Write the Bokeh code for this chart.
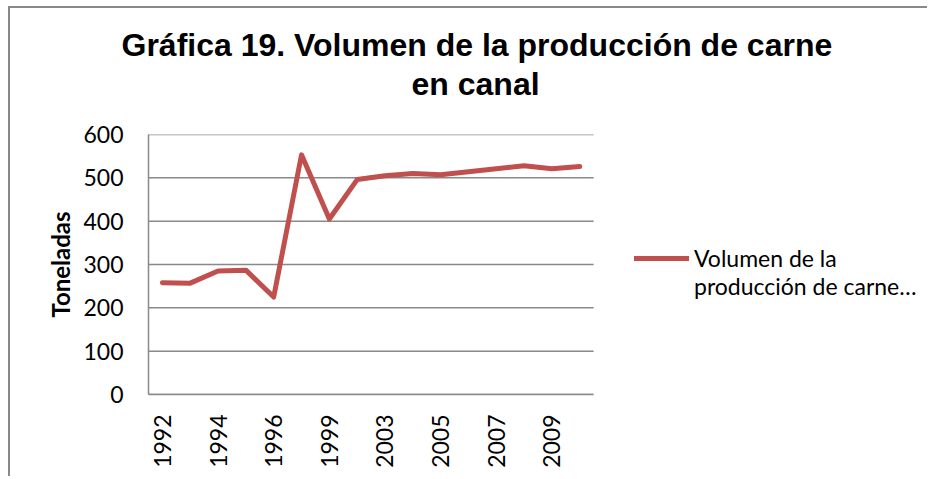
import math
from bokeh.plotting import figure
from bokeh.models import (Range1d, FixedTicker, Legend, LegendItem, Title,
                          ColumnDataSource)
from bokeh.embed import file_html
from bokeh.resources import INLINE

# ---- data ----
years = ["1992", "1993", "1994", "1995", "1996", "1998", "1999", "2001",
         "2003", "2004", "2005", "2006", "2007", "2008", "2009", "2010"]
toneladas = [258, 257, 285, 287, 225, 553, 405, 496,
             505, 510, 507, 514, 521, 528, 521, 526]
shown_years = ["1992", "1994", "1996", "1999", "2003", "2005", "2007", "2009"]
y_ticks = [0, 100, 200, 300, 400, 500, 600]
title_line1 = "Gráfica 19. Volumen de la producción de carne"
title_line2 = "en canal"
series_name_1 = "Volumen de la"
series_name_2 = "producción de carne…"
axis_title = "Toneladas"

LINE_COLOR = "#C0504D"
GRID_COLOR = "#898989"
TICK_FONT = "Lato"

# ---- layout (pixels) ----
W, H = 919, 470                  # element size (includes 2px border)
CW = W - 2                       # canvas width
LEFT, TOP, BOTTOM, RIGHT = 138, 126, 84, 0
PLOT_W = 444                     # width of the drawn plot area
n = len(years)
x_lo, x_hi = -0.5, n - 0.5
frame_w = CW - LEFT - RIGHT
x_end = x_lo + frame_w * (x_hi - x_lo) / PLOT_W

idx = list(range(n))
src = ColumnDataSource(dict(x=idx, y=toneladas, year=years))

p = figure(width=W, height=H, output_backend="svg", toolbar_location=None,
           x_range=Range1d(x_lo, x_end), y_range=Range1d(y_ticks[0], y_ticks[-1]),
           min_border_left=LEFT, min_border_right=RIGHT, min_border_top=TOP,
           min_border_bottom=BOTTOM, title=None)
p.styles = {"margin-left": "8px", "margin-top": "6px",
            "border-left": "2px solid #898989", "border-top": "2px solid #898989"}
p.outline_line_color = None
p.background_fill_color = "white"
p.border_fill_color = "white"
p.xgrid.grid_line_color = None
p.ygrid.grid_line_color = None

# horizontal gridlines limited to the plot area
p.segment(x0=[x_lo] * len(y_ticks), x1=[x_hi] * len(y_ticks), y0=y_ticks, y1=y_ticks,
          line_color=GRID_COLOR, line_width=1.5)

r = p.line("x", "y", source=src, line_color=LINE_COLOR, line_width=5,
           line_join="round", line_cap="round")
dummy = p.line(x=[], y=[], line_alpha=0)

# x axis
p.xaxis.bounds = (x_lo, x_hi)
p.xaxis.ticker = FixedTicker(ticks=[years.index(y) for y in shown_years])
p.xaxis.major_label_overrides = {years.index(y): y for y in shown_years}
p.xaxis.major_label_orientation = math.pi / 2
p.xaxis.major_tick_line_color = None
p.xaxis.minor_tick_line_color = None
p.xaxis.axis_line_color = GRID_COLOR
p.xaxis.axis_line_width = 1.5
p.xaxis.major_label_text_font = TICK_FONT
p.xaxis.major_label_text_font_size = "23px"
p.xaxis.major_label_text_color = "black"
p.xaxis.major_label_standoff = 14

# y axis
p.yaxis.ticker = FixedTicker(ticks=y_ticks)
p.yaxis.major_tick_line_color = None
p.yaxis.minor_tick_line_color = None
p.yaxis.axis_line_color = GRID_COLOR
p.yaxis.axis_line_width = 1.5
p.yaxis.major_label_text_font = TICK_FONT
p.yaxis.major_label_text_font_size = "23px"
p.yaxis.major_label_text_color = "black"
p.yaxis.major_label_standoff = 19
p.yaxis.axis_label = axis_title
p.yaxis.axis_label_text_font = TICK_FONT
p.yaxis.axis_label_text_font_style = "bold"
p.yaxis.axis_label_text_font_size = "24px"
p.yaxis.axis_label_text_color = "black"
p.yaxis.axis_label_standoff = 5

# titles: panels are stacked from the plot upward
TITLE_FONT = dict(text_font="Liberation Sans", text_font_style="bold",
                  text_font_size="32px", text_color="black")
gap = Title(text=" ", align="left", text_font_size="1px", standoff=30)
t2 = Title(text=title_line2, align="left", offset=263, standoff=0, **TITLE_FONT)
t1 = Title(text=title_line1, align="left", offset=-27, standoff=1, **TITLE_FONT)
p.add_layout(gap, "above")
p.add_layout(t2, "above")
p.add_layout(t1, "above")

legend = Legend(items=[LegendItem(label=series_name_1, renderers=[r]),
                       LegendItem(label=series_name_2, renderers=[dummy])],
                location=(486, 94), glyph_width=55, glyph_height=26,
                label_height=26, spacing=0, padding=0, margin=0,
                label_standoff=5, border_line_color=None,
                background_fill_alpha=0, label_text_font=TICK_FONT,
                label_text_font_size="23px", label_text_color="black")
p.add_layout(legend, "center")

open("out.html", "w").write(file_html(p, INLINE))
